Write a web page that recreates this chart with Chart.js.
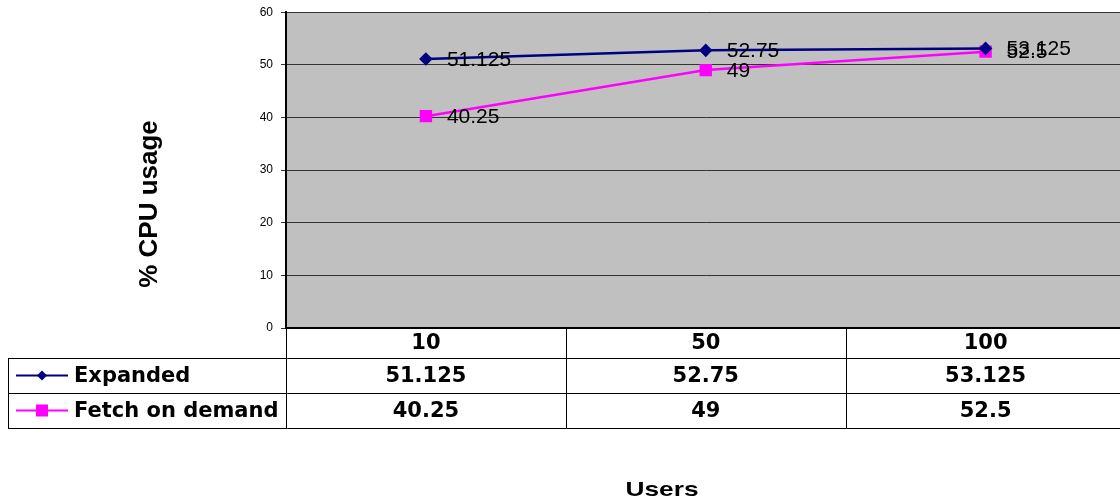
<!DOCTYPE html>
<html>
<head>
<meta charset="utf-8">
<script src="https://cdn.jsdelivr.net/npm/chart.js@4/dist/chart.umd.min.js"></script>
<style>
    body { margin: 0; background: #fff; overflow: hidden; }
    #wrap { width: 1120px; height: 503px; overflow: hidden; }
    canvas { display: block; margin-top: -3px; }
</style>
</head>
<body>
<div id="wrap"><canvas id="chart" width="1135" height="506"></canvas></div>
<script>
const users = ['10', '50', '100'];
const expanded = [51.125, 52.75, 53.125];
const fetchOnDemand = [40.25, 49, 52.5];
const seriesNames = ['Expanded', 'Fetch on demand'];
const seriesColors = ['#000080', '#FF00FF'];

// table row geometry (canvas sits 3px above the page top)
const headerTop = 331;
const rowTops = [361, 396];
const rowHeight = 35;
const tableLeft = 8;

const plotBg = {
    id: 'plotBg',
    beforeDraw(chart) {
        const a = chart.chartArea;
        const ctx = chart.ctx;
        ctx.save();
        ctx.fillStyle = '#C0C0C0';
        ctx.fillRect(a.left, a.top, a.right - a.left, a.bottom - a.top);
        ctx.restore();
    }
};

function drawMarker(ctx, style, x, y, color) {
    ctx.fillStyle = color;
    ctx.beginPath();
    if (style === 'rectRot') {
        ctx.moveTo(x, y - 5);
        ctx.lineTo(x + 5, y);
        ctx.lineTo(x, y + 5);
        ctx.lineTo(x - 5, y);
        ctx.closePath();
    } else {
        ctx.rect(x - 6, y - 6, 12, 12);
    }
    ctx.fill();
}

const valueLabels = {
    id: 'valueLabels',
    afterDatasetsDraw(chart) {
        const ctx = chart.ctx;
        ctx.save();
        ctx.font = '21px "Liberation Sans", Arial';
        ctx.fillStyle = '#000';
        ctx.textAlign = 'left';
        ctx.textBaseline = 'middle';
        chart.data.datasets.forEach((ds, i) => {
            chart.getDatasetMeta(i).data.forEach((pt, j) => {
                ctx.fillText(String(ds.data[j]), pt.x + 21, pt.y + 1);
            });
        });
        ctx.restore();
    }
};

const dataTable = {
    id: 'dataTable',
    afterDraw(chart) {
        const ctx = chart.ctx;
        const a = chart.chartArea;
        const xs = chart.scales.x;
        const colW = (a.right - a.left) / users.length;
        const bottom = rowTops[1] + rowHeight;
        ctx.save();

        ctx.strokeStyle = '#000';
        ctx.lineWidth = 1;
        ctx.beginPath();
        // horizontal lines
        ctx.moveTo(tableLeft, rowTops[0] + 0.5);
        ctx.lineTo(a.right, rowTops[0] + 0.5);
        ctx.moveTo(tableLeft, rowTops[1] + 0.5);
        ctx.lineTo(a.right, rowTops[1] + 0.5);
        ctx.moveTo(tableLeft, bottom + 0.5);
        ctx.lineTo(a.right, bottom + 0.5);
        // verticals
        ctx.moveTo(tableLeft + 0.5, rowTops[0]);
        ctx.lineTo(tableLeft + 0.5, bottom);
        for (let i = 0; i <= users.length; i++) {
            const x = Math.round(a.left + i * colW) + 0.5;
            ctx.moveTo(x, headerTop);
            ctx.lineTo(x, bottom);
        }
        ctx.stroke();

        // plot bottom edge
        ctx.lineWidth = 2;
        ctx.beginPath();
        ctx.moveTo(a.left, a.bottom);
        ctx.lineTo(a.right, a.bottom);
        ctx.stroke();

        ctx.fillStyle = '#000';
        ctx.font = 'bold 21px "DejaVu Sans", Verdana';
        ctx.textAlign = 'center';
        ctx.textBaseline = 'middle';
        users.forEach((u, i) => {
            ctx.fillText(u, xs.getPixelForValue(i), headerTop + 16);
        });
        const rows = [expanded, fetchOnDemand];
        rows.forEach((vals, r) => {
            const cy = rowTops[r] + rowHeight / 2 + 1;
            vals.forEach((v, i) => {
                ctx.fillText(String(v), xs.getPixelForValue(i), cy);
            });
        });

        // legend keys
        ctx.textAlign = 'left';
        rows.forEach((vals, r) => {
            const cy = rowTops[r] + rowHeight / 2;
            ctx.strokeStyle = seriesColors[r];
            ctx.lineWidth = 2;
            ctx.beginPath();
            ctx.moveTo(16, cy);
            ctx.lineTo(68, cy);
            ctx.stroke();
            drawMarker(ctx, r === 0 ? 'rectRot' : 'rect', 42, cy, seriesColors[r]);
            ctx.fillStyle = '#000';
            ctx.fillText(seriesNames[r], 74, cy + 1);
        });

        // axis titles
        ctx.font = 'bold 26px "Liberation Sans", Arial';
        ctx.textAlign = 'center';
        ctx.save();
        ctx.translate(150, 207);
        ctx.rotate(-Math.PI / 2);
        ctx.fillText('% CPU usage', 0, 0);
        ctx.restore();

        ctx.save();
        ctx.translate(662, 493);
        ctx.scale(1.25, 1);
        ctx.font = 'bold 21px "Liberation Sans", Arial';
        ctx.fillText('Users', 0, 0);
        ctx.restore();

        ctx.restore();
    }
};

const ctx = document.getElementById('chart').getContext('2d');
new Chart(ctx, {
    type: 'line',
    data: {
        labels: users,
        datasets: [{
            label: seriesNames[0],
            data: expanded,
            borderColor: seriesColors[0],
            backgroundColor: seriesColors[0],
            borderWidth: 2.5,
            pointStyle: 'rectRot',
            pointRadius: 5,
            pointHoverRadius: 5,
            tension: 0
        }, {
            label: seriesNames[1],
            data: fetchOnDemand,
            borderColor: seriesColors[1],
            backgroundColor: seriesColors[1],
            borderWidth: 2.5,
            pointStyle: 'rect',
            pointRadius: 7,
            pointHoverRadius: 7,
            tension: 0
        }]
    },
    options: {
        responsive: false,
        animation: false,
        devicePixelRatio: 1,
        layout: { padding: { top: 9, left: 0, right: 0, bottom: 0 } },
        plugins: {
            legend: { display: false },
            tooltip: { enabled: false }
        },
        scales: {
            x: {
                offset: true,
                ticks: { display: false },
                grid: { display: false },
                border: { display: false },
                afterFit(scale) { scale.height = 175; }
            },
            y: {
                min: 0,
                max: 60,
                ticks: {
                    stepSize: 10,
                    color: '#000',
                    font: { family: '"Liberation Sans", Arial', size: 12 },
                    padding: 8
                },
                grid: { color: '#333', lineWidth: 1, tickLength: 5 },
                border: { color: '#000', width: 2 },
                afterFit(scale) { scale.width = 286; }
            }
        }
    },
    plugins: [plotBg, valueLabels, dataTable]
});
</script>
</body>
</html>
